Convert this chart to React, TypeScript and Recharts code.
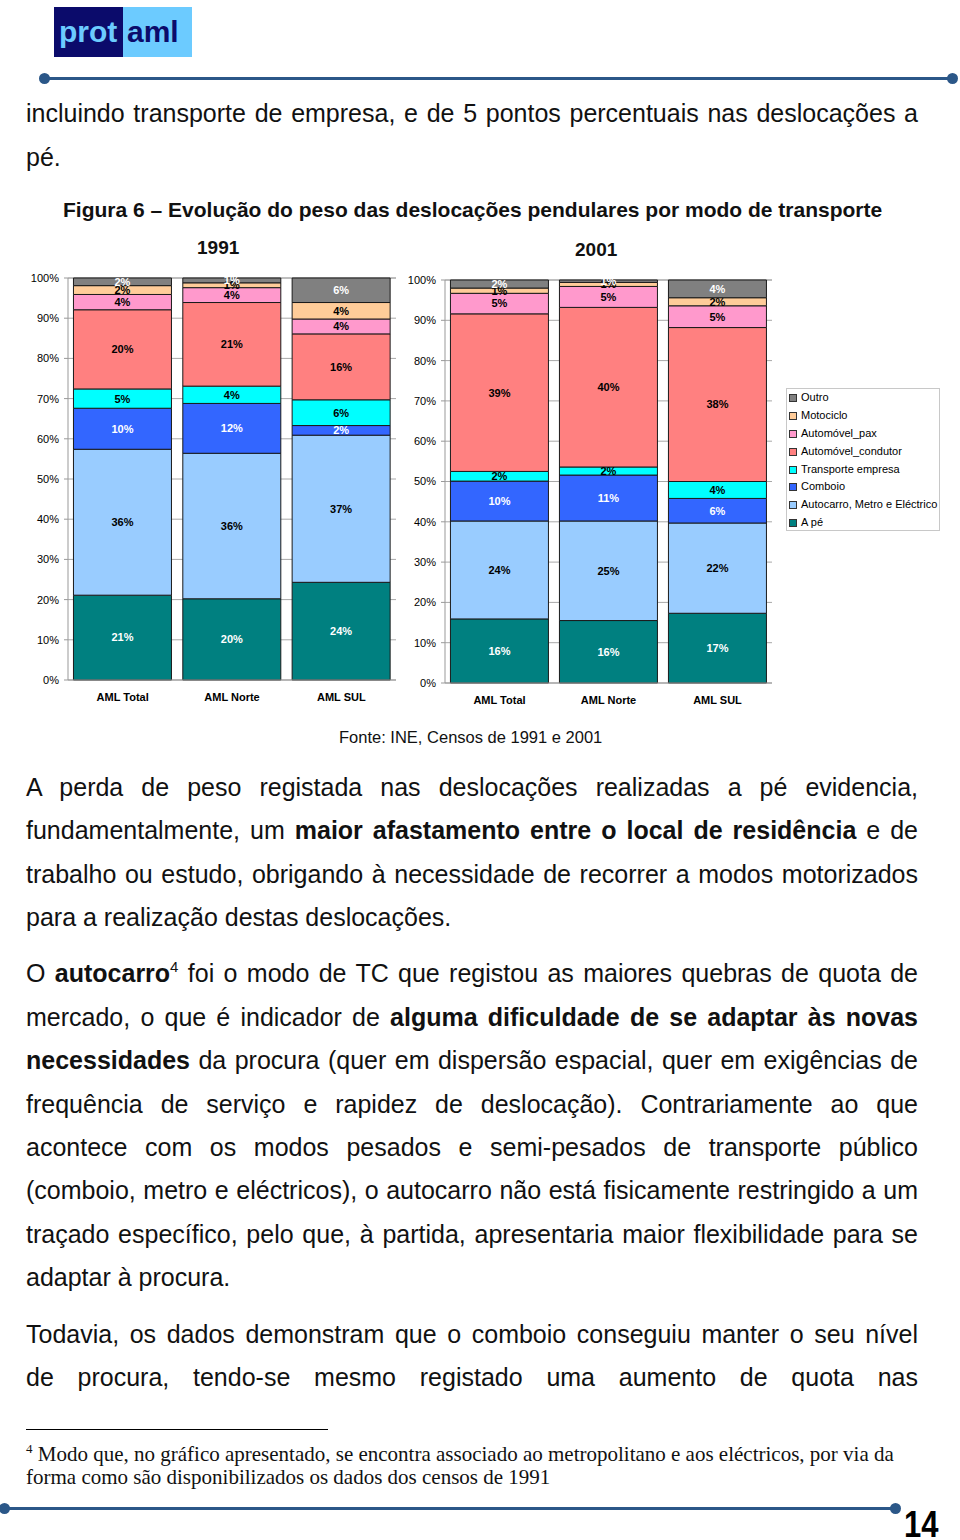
import React from "react";
import { BarChart, Bar, XAxis, YAxis, CartesianGrid, LabelList } from "recharts";

const categories = ["AML Total", "AML Norte", "AML SUL"];
// stacking order, bottom to top
const modes = [
  "A pé",
  "Autocarro, Metro e Eléctrico",
  "Comboio",
  "Transporte empresa",
  "Automóvel_condutor",
  "Automóvel_pax",
  "Motociclo",
  "Outro",
];
const modeColors = ["#008080", "#99CCFF", "#3366FF", "#00FFFF", "#FF8080", "#FF99CC", "#FFCC99", "#808080"];
const labelColors = ["#ffffff", "#000000", "#ffffff", "#000000", "#000000", "#000000", "#000000", "#ffffff"];
const yTicks = [0, 10, 20, 30, 40, 50, 60, 70, 80, 90, 100];

// shares (%) per region, same order as modes
const total1991 = [21.1, 36.3, 10.2, 4.8, 19.7, 3.8, 2.2, 1.9];
const norte1991 = [20.2, 36.2, 12.4, 4.3, 20.8, 3.7, 1.2, 1.2];
const sul1991 = [24.3, 36.6, 2.4, 6.4, 16.4, 3.7, 4.1, 6.1];
const total2001 = [15.9, 24.3, 9.9, 2.4, 39.1, 5.1, 1.3, 2.0];
const norte2001 = [15.5, 24.7, 11.4, 2.0, 39.6, 5.2, 1.0, 0.6];
const sul2001 = [17.3, 22.4, 6.1, 4.2, 38.2, 5.4, 2.0, 4.4];

const buildRows = (cols: number[][]) =>
  categories.map((name, i) => {
    const row: Record<string, string | number> = { name };
    modes.forEach((_, k) => {
      row["m" + k] = cols[i][k];
    });
    return row;
  });

const data1991 = buildRows([total1991, norte1991, sul1991]);
const data2001 = buildRows([total2001, norte2001, sul2001]);

const FONT = "'Liberation Sans', Arial, Helvetica, sans-serif";
const SERIF = "'Liberation Serif', 'Times New Roman', serif";
const LINE = "#2B5788";

function YearChart({ data, width, height, axisWidth }: { data: any[]; width: number; height: number; axisWidth: number }) {
  return (
    <BarChart
      width={width}
      height={height}
      data={data}
      margin={{ top: 18, right: 4, left: 0, bottom: 0 }}
      barCategoryGap="5%"
      style={{ fontFamily: FONT }}
    >
      <CartesianGrid vertical={false} stroke="#a8a8a8" />
      <XAxis
        dataKey="name"
        height={30}
        interval={0}
        axisLine={{ stroke: "#999" }}
        tickLine={false}
        tickMargin={7}
        tick={{ fontSize: 11, fontWeight: 700, fill: "#000" }}
      />
      <YAxis
        domain={[0, 100]}
        ticks={yTicks}
        width={axisWidth}
        tickFormatter={(v) => `${v}%`}
        axisLine={{ stroke: "#999" }}
        tickLine={{ stroke: "#999" }}
        tickSize={4}
        tickMargin={5}
        tick={{ fontSize: 11, fill: "#000" }}
      />
      {modes.map((m, k) => (
        <Bar
          key={m}
          name={m}
          dataKey={"m" + k}
          stackId="a"
          fill={modeColors[k]}
          stroke="#1a1a1a"
          strokeWidth={1}
          isAnimationActive={false}
        >
          <LabelList
            dataKey={"m" + k}
            position="center"
            formatter={(v: any) => `${Math.round(Number(v))}%`}
            fill={labelColors[k]}
            stroke="none"
            fontSize={11}
            fontWeight={700}
          />
        </Bar>
      ))}
    </BarChart>
  );
}

function Legend() {
  return (
    <div
      style={{
        position: "absolute",
        left: 786,
        top: 388,
        width: 152,
        height: 141,
        border: "1px solid #c8c8c8",
        fontFamily: FONT,
        fontSize: 11,
        color: "#000",
      }}
    >
      {modes
        .map((m, k) => ({ m, k }))
        .reverse()
        .map(({ m, k }) => (
          <div key={m} style={{ height: 17.9, lineHeight: "17.9px", display: "flex", alignItems: "center", whiteSpace: "nowrap" }}>
            <span
              style={{
                display: "inline-block",
                width: 6,
                height: 6,
                marginLeft: 2,
                marginRight: 4,
                background: modeColors[k],
                border: "1px solid #333",
              }}
            />
            {m}
          </div>
        ))}
    </div>
  );
}

type Line = { y: number; content: React.ReactNode; justify: boolean };

const b = (t: string) => <b>{t}</b>;

const bodyLines: Line[] = [
  { y: 113, content: "incluindo transporte de empresa, e de 5 pontos percentuais nas deslocações a", justify: true },
  { y: 157, content: "pé.", justify: false },
  { y: 787, content: "A perda de peso registada nas deslocações realizadas a pé evidencia,", justify: true },
  { y: 830, content: <>fundamentalmente, um {b("maior afastamento entre o local de residência")} e de</>, justify: true },
  { y: 874, content: "trabalho ou estudo, obrigando à necessidade de recorrer a modos motorizados", justify: true },
  { y: 917, content: "para a realização destas deslocações.", justify: false },
  {
    y: 973,
    content: (
      <>
        O {b("autocarro")}
        <sup style={{ fontSize: 15, lineHeight: 0, verticalAlign: "0.7em" }}>4</sup> foi o modo de TC que registou as maiores quebras de quota de
      </>
    ),
    justify: true,
  },
  { y: 1017, content: <>mercado, o que é indicador de {b("alguma dificuldade de se adaptar às novas")}</>, justify: true },
  { y: 1060, content: <>{b("necessidades")} da procura (quer em dispersão espacial, quer em exigências de</>, justify: true },
  { y: 1104, content: "frequência de serviço e rapidez de deslocação). Contrariamente ao que", justify: true },
  { y: 1147, content: "acontece com os modos pesados e semi-pesados de transporte público", justify: true },
  { y: 1190, content: "(comboio, metro e eléctricos), o autocarro não está fisicamente restringido a um", justify: true },
  { y: 1234, content: "traçado específico, pelo que, à partida, apresentaria maior flexibilidade para se", justify: true },
  { y: 1277, content: "adaptar à procura.", justify: false },
  { y: 1334, content: "Todavia, os dados demonstram que o comboio conseguiu manter o seu nível", justify: true },
  { y: 1377, content: "de procura, tendo-se mesmo registado uma aumento de quota nas", justify: true },
];

function Dot({ x, y }: { x: number; y: number }) {
  return (
    <div
      style={{ position: "absolute", left: x - 5.5, top: y - 5.5, width: 11, height: 11, borderRadius: "50%", background: LINE }}
    />
  );
}

export default function App() {
  return (
    <div style={{ position: "relative", width: 960, height: 1540, background: "#fff", fontFamily: FONT, color: "#111", overflow: "hidden" }}>
      <style>{"body{margin:0}"}</style>

      {/* logo */}
      <div style={{ position: "absolute", left: 54, top: 7, width: 69, height: 50, background: "#0B0B6B" }} />
      <div style={{ position: "absolute", left: 123, top: 7, width: 69, height: 50, background: "#6CCBFF" }} />
      <div style={{ position: "absolute", left: 59, top: 17, fontSize: 30, lineHeight: "30px", fontWeight: 700, color: "#6CCBFF" }}>prot</div>
      <div style={{ position: "absolute", left: 127, top: 17, fontSize: 30, lineHeight: "30px", fontWeight: 700, color: "#0B0B6B" }}>aml</div>

      {/* top rule */}
      <div style={{ position: "absolute", left: 44, top: 76.5, width: 908, height: 3, background: LINE }} />
      <Dot x={44} y={78} />
      <Dot x={952} y={78} />

      {bodyLines.map((l, i) => (
        <div
          key={i}
          style={{
            position: "absolute",
            left: 26,
            width: 892,
            top: l.y - 15,
            fontSize: 25,
            lineHeight: "30px",
            whiteSpace: "nowrap",
            textAlign: l.justify ? "justify" : "left",
            textAlignLast: l.justify ? "justify" : "left",
          }}
        >
          {l.content}
        </div>
      ))}

      {/* figure title */}
      <div style={{ position: "absolute", left: 63, top: 197, fontSize: 21, lineHeight: "26px", fontWeight: 700, whiteSpace: "nowrap" }}>
        Figura 6 – Evolução do peso das deslocações pendulares por modo de transporte
      </div>
      <div style={{ position: "absolute", left: 197, top: 237, fontSize: 19, lineHeight: "22px", fontWeight: 700 }}>1991</div>
      <div style={{ position: "absolute", left: 575, top: 239, fontSize: 19, lineHeight: "22px", fontWeight: 700 }}>2001</div>

      <div style={{ position: "absolute", left: 0, top: 260 }}>
        <YearChart data={data1991} width={400} height={450} axisWidth={68} />
      </div>
      <div style={{ position: "absolute", left: 380, top: 262 }}>
        <YearChart data={data2001} width={396} height={451} axisWidth={65} />
      </div>
      <Legend />

      <div style={{ position: "absolute", left: 339, top: 727, fontSize: 16.5, lineHeight: "20px", whiteSpace: "nowrap" }}>
        Fonte: INE, Censos de 1991 e 2001
      </div>

      {/* footnote */}
      <div style={{ position: "absolute", left: 26, top: 1429, width: 302, height: 1, background: "#000" }} />
      <div
        style={{
          position: "absolute",
          left: 26,
          top: 1443,
          width: 867,
          fontFamily: SERIF,
          fontSize: 21,
          lineHeight: "23px",
          whiteSpace: "nowrap",
          textAlign: "justify",
          textAlignLast: "justify",
        }}
      >
        <sup style={{ fontSize: 13, lineHeight: 0, verticalAlign: "0.6em" }}>4</sup> Modo que, no gráfico apresentado, se encontra associado ao
        metropolitano e aos eléctricos, por via da
      </div>
      <div
        style={{
          position: "absolute",
          left: 26,
          top: 1466,
          fontFamily: SERIF,
          fontSize: 21,
          lineHeight: "23px",
          whiteSpace: "nowrap",
        }}
      >
        forma como são disponibilizados os dados dos censos de 1991
      </div>

      {/* bottom rule */}
      <div style={{ position: "absolute", left: 4, top: 1506.5, width: 891, height: 3, background: LINE }} />
      <Dot x={4} y={1508} />
      <Dot x={895} y={1508} />
      <div
        style={{
          position: "absolute",
          left: 904,
          top: 1511,
          fontSize: 36,
          lineHeight: "28px",
          fontWeight: 700,
          color: "#000",
          transform: "scaleX(0.86)",
          transformOrigin: "left top",
        }}
      >
        14
      </div>
    </div>
  );
}
